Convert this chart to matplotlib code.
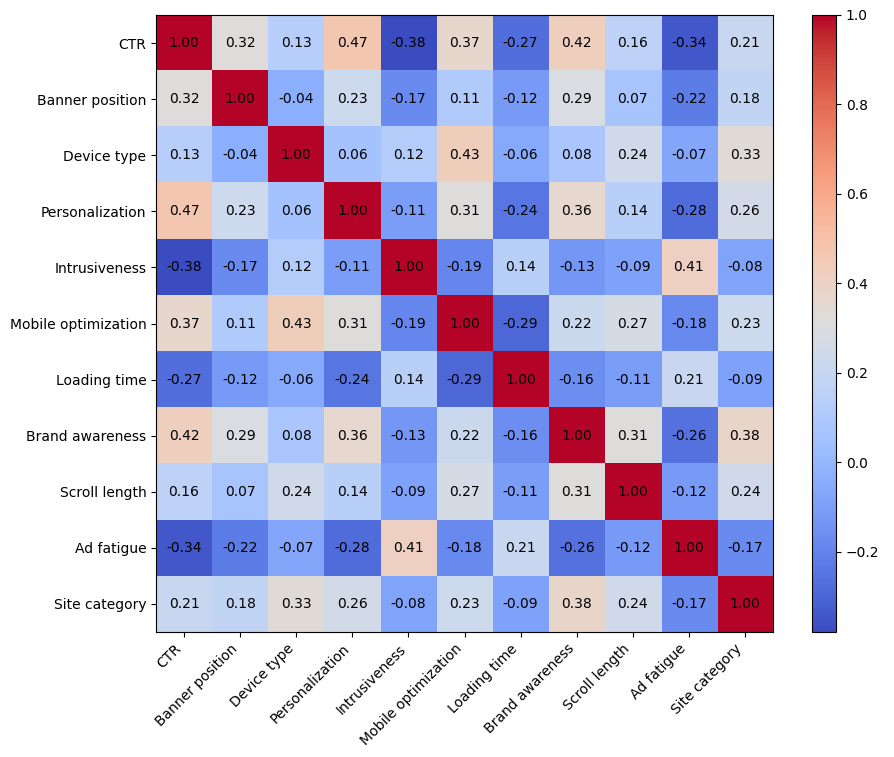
import numpy as np
import matplotlib
matplotlib.use('Agg')
import matplotlib.pyplot as plt

labels = ['CTR', 'Banner position', 'Device type', 'Personalization', 'Intrusiveness',
          'Mobile optimization', 'Loading time', 'Brand awareness', 'Scroll length',
          'Ad fatigue', 'Site category']

corr = np.array([
    [1.00, 0.32, 0.13, 0.47, -0.38, 0.37, -0.27, 0.42, 0.16, -0.34, 0.21],
    [0.32, 1.00, -0.04, 0.23, -0.17, 0.11, -0.12, 0.29, 0.07, -0.22, 0.18],
    [0.13, -0.04, 1.00, 0.06, 0.12, 0.43, -0.06, 0.08, 0.24, -0.07, 0.33],
    [0.47, 0.23, 0.06, 1.00, -0.11, 0.31, -0.24, 0.36, 0.14, -0.28, 0.26],
    [-0.38, -0.17, 0.12, -0.11, 1.00, -0.19, 0.14, -0.13, -0.09, 0.41, -0.08],
    [0.37, 0.11, 0.43, 0.31, -0.19, 1.00, -0.29, 0.22, 0.27, -0.18, 0.23],
    [-0.27, -0.12, -0.06, -0.24, 0.14, -0.29, 1.00, -0.16, -0.11, 0.21, -0.09],
    [0.42, 0.29, 0.08, 0.36, -0.13, 0.22, -0.16, 1.00, 0.31, -0.26, 0.38],
    [0.16, 0.07, 0.24, 0.14, -0.09, 0.27, -0.11, 0.31, 1.00, -0.12, 0.24],
    [-0.34, -0.22, -0.07, -0.28, 0.41, -0.18, 0.21, -0.26, -0.12, 1.00, -0.17],
    [0.21, 0.18, 0.33, 0.26, -0.08, 0.23, -0.09, 0.38, 0.24, -0.17, 1.00],
])

fig = plt.figure(figsize=(8.95, 7.57), dpi=100)
ax = fig.add_axes([0.1743, 0.1651, 0.6894, 0.8151])
cax = fig.add_axes([0.9073, 0.1651, 0.0268, 0.8151])

im = ax.imshow(corr, cmap='coolwarm', aspect='auto')
fig.colorbar(im, cax=cax)

ax.set_xticks(range(len(labels)))
ax.set_yticks(range(len(labels)))
ax.set_xticklabels(labels, rotation=45, ha='right')
ax.set_yticklabels(labels)

for i in range(len(labels)):
    for j in range(len(labels)):
        ax.text(j, i, f"{corr[i, j]:.2f}", ha='center', va='center', color='black', fontsize=10)

fig.savefig('out.png', dpi=100)
